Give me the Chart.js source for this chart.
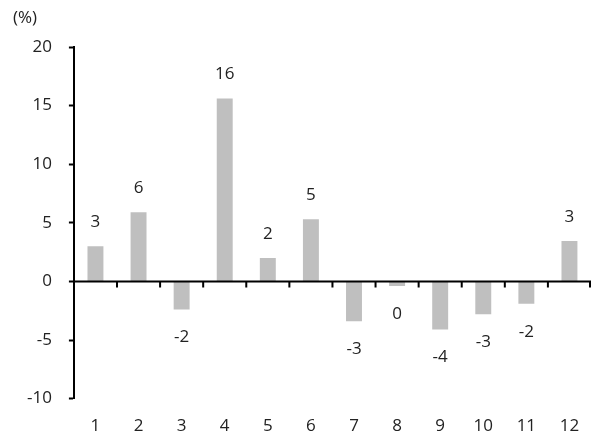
<!DOCTYPE html>
<html>
<head>
<meta charset="utf-8">
<script src="https://cdn.jsdelivr.net/npm/chart.js@4/dist/chart.umd.min.js"></script>
<style>
  html, body { margin: 0; padding: 0; background: #fff; }
  #wrap { width: 591px; height: 438px; }
</style>
</head>
<body>
<div id="wrap"><canvas id="myChart" width="591" height="438"></canvas></div>
<script>
const months = ["1", "2", "3", "4", "5", "6", "7", "8", "9", "10", "11", "12"];
const changeValues = [3.0, 5.9, -2.4, 15.6, 2.0, 5.3, -3.4, -0.4, -4.1, -2.8, -1.9, 3.45];
const yTicks = [-10, -5, 0, 5, 10, 15, 20];

const fontFamily = "'Open Sans', 'Noto Sans', sans-serif";
const textColor = "#222";

// zero line with ticks between months, value labels and the unit text
const extras = {
  id: "extras",
  afterDatasetsDraw(chart) {
    const ctx = chart.ctx;
    const area = chart.chartArea;
    const xs = chart.scales.x;
    const ys = chart.scales.y;
    const zeroY = ys.getPixelForValue(0);

    ctx.save();
    ctx.strokeStyle = "#000";
    ctx.lineWidth = 2;
    ctx.beginPath();
    ctx.moveTo(area.left, zeroY);
    ctx.lineTo(area.right, zeroY);
    for (let i = 1; i <= months.length; i++) {
      const bx = i < months.length
        ? (xs.getPixelForValue(i - 1) + xs.getPixelForValue(i)) / 2
        : area.right - 1;
      ctx.moveTo(bx, zeroY);
      ctx.lineTo(bx, zeroY + 6);
    }
    ctx.stroke();

    ctx.fillStyle = textColor;
    ctx.font = "17px " + fontFamily;
    ctx.textAlign = "center";
    ctx.textBaseline = "middle";
    const meta = chart.getDatasetMeta(0);
    meta.data.forEach(function (bar, i) {
      const v = changeValues[i];
      const txt = Math.round(v).toString();
      const ty = v >= 0 ? bar.y - 24 : bar.y + 28;
      ctx.fillText(txt === "-0" ? "0" : txt, bar.x, ty);
    });

    ctx.textAlign = "left";
    ctx.fillText("(%)", 13, 18);
    ctx.restore();
  }
};

const ctx = document.getElementById("myChart").getContext("2d");
new Chart(ctx, {
  type: "bar",
  data: {
    labels: months,
    datasets: [{
      data: changeValues,
      backgroundColor: "#bfbfbf",
      borderWidth: 0,
      categoryPercentage: 1.0,
      barPercentage: 0.37
    }]
  },
  options: {
    responsive: false,
    animation: false,
    layout: { padding: { top: 47, right: 0, bottom: -15, left: 10 } },
    plugins: {
      legend: { display: false },
      tooltip: { enabled: false }
    },
    scales: {
      x: {
        afterFit: function (scale) {
          scale.paddingLeft = 0;
          scale.paddingRight = 0;
        },
        grid: { display: false, drawTicks: false },
        border: { display: false },
        ticks: {
          color: textColor,
          font: { family: fontFamily, size: 17 },
          padding: 17,
          maxRotation: 0
        }
      },
      y: {
        min: -10,
        max: 20,
        afterBuildTicks: function (scale) {
          scale.ticks = yTicks.map(v => ({ value: v }));
        },
        grid: {
          drawOnChartArea: false,
          drawTicks: true,
          tickLength: 5,
          tickWidth: 2,
          color: "#000"
        },
        border: { display: true, color: "#000", width: 2 },
        ticks: {
          color: textColor,
          font: { family: fontFamily, size: 17 },
          padding: 17
        }
      }
    }
  },
  plugins: [extras]
});
</script>
</body>
</html>
